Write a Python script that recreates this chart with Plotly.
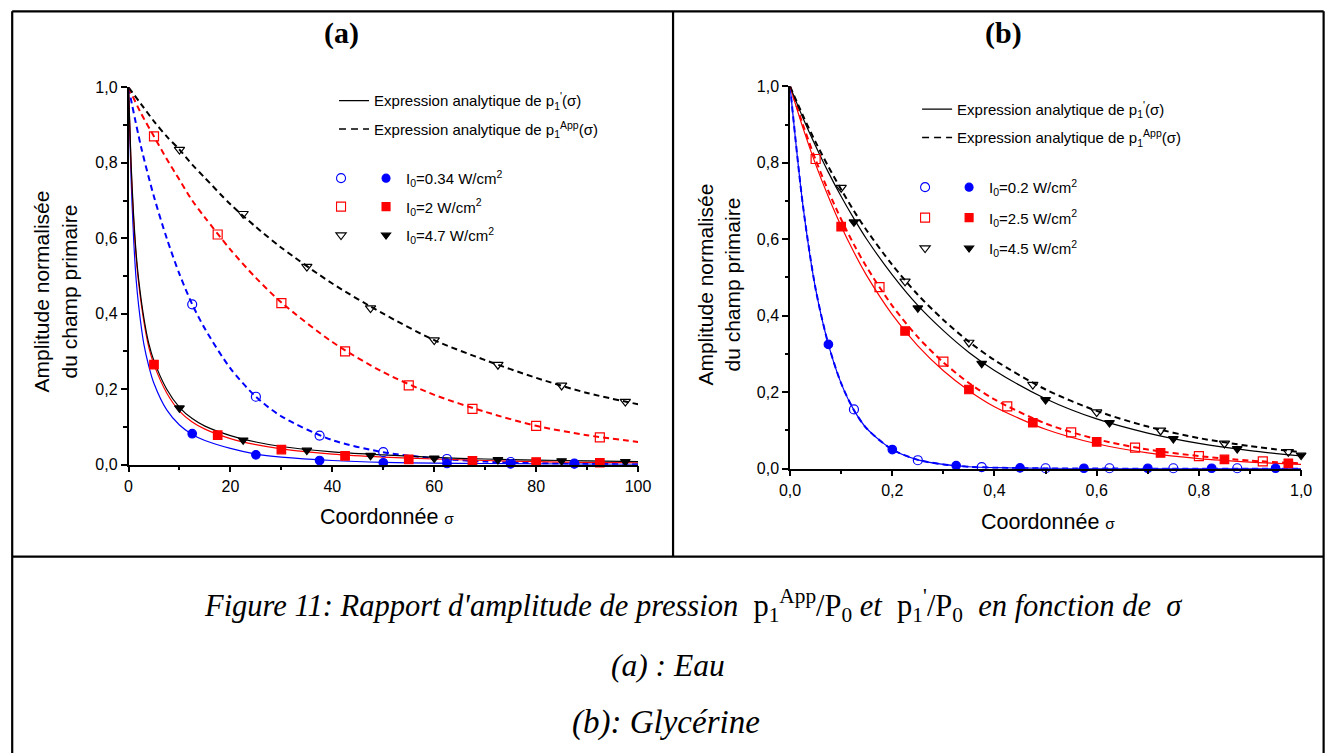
import plotly.graph_objects as go

# page -> photograph mapping measured on previous runs: pic = S * page + C
SX, CX = 0.982, 10.0
SY, CY = 0.977, 7.7
FW, FH = 1340, 763

# ---------------- Panel (a) : Eau ----------------
a_x_app = [0, 2.5, 5, 7.5, 10, 12.5, 15, 20, 25, 30, 40, 50, 60, 70, 80, 90, 100]
a_blue_app = [1, 0.84, 0.71, 0.60, 0.505, 0.425, 0.36, 0.255, 0.18, 0.128, 0.065, 0.033, 0.017, 0.008, 0.004, 0.002, 0.001]
a_red_app = [1, 0.93, 0.87, 0.81, 0.755, 0.70, 0.655, 0.57, 0.495, 0.43, 0.325, 0.245, 0.185, 0.14, 0.103, 0.078, 0.06]
a_black_app = [1, 0.955, 0.91, 0.87, 0.835, 0.795, 0.76, 0.69, 0.63, 0.575, 0.48, 0.40, 0.33, 0.277, 0.23, 0.19, 0.16]

a_x_p1 = [0, 0.5, 1, 1.5, 2, 3, 4, 5, 7.5, 10, 12.5, 15, 20, 25, 30, 40, 50, 60, 70, 80, 90, 100]
a_black_p1 = [1, 0.80, 0.66, 0.56, 0.49, 0.39, 0.32, 0.275, 0.20, 0.152, 0.122, 0.102, 0.077, 0.06, 0.048, 0.034, 0.026, 0.019, 0.015, 0.012, 0.010, 0.008]
a_red_p1 = [1, 0.79, 0.65, 0.55, 0.48, 0.38, 0.31, 0.265, 0.19, 0.142, 0.113, 0.094, 0.069, 0.053, 0.042, 0.028, 0.020, 0.015, 0.011, 0.008, 0.006, 0.005]
a_blue_p1 = [1, 0.76, 0.60, 0.49, 0.42, 0.32, 0.26, 0.215, 0.145, 0.105, 0.08, 0.064, 0.043, 0.028, 0.020, 0.011, 0.006, 0.004, 0.003, 0.002, 0.0015, 0.001]

a_blue_mx = [12.5, 25, 37.5, 50, 62.5, 75, 87.5]
a_blue_open = [0.425, 0.18, 0.077, 0.033, 0.015, 0.007, 0.003]
a_blue_fill = [0.082, 0.026, 0.011, 0.005, 0.003, 0.002, 0.002]
a_red_mx = [5, 17.5, 30, 42.5, 55, 67.5, 80, 92.5]
a_red_open = [0.87, 0.61, 0.428, 0.30, 0.21, 0.148, 0.103, 0.072]
a_red_fill = [0.265, 0.078, 0.04, 0.023, 0.014, 0.01, 0.007, 0.005]
a_black_mx = [10, 22.5, 35, 47.5, 60, 72.5, 85, 97.5]
a_black_open = [0.835, 0.665, 0.525, 0.415, 0.33, 0.265, 0.21, 0.167]
a_black_fill = [0.15, 0.065, 0.038, 0.024, 0.017, 0.013, 0.01, 0.008]
a_labels = ["I<sub>0</sub>=0.34 W/cm<sup>2</sup>", "I<sub>0</sub>=2 W/cm<sup>2</sup>", "I<sub>0</sub>=4.7 W/cm<sup>2</sup>"]

# ---------------- Panel (b) : Glycérine ----------------
b_x = [0, 0.025, 0.05, 0.075, 0.1, 0.125, 0.15, 0.2, 0.25, 0.3, 0.35, 0.4, 0.5, 0.6, 0.7, 0.8, 0.9, 1.0]
b_blue_app = [1, 0.69, 0.47, 0.325, 0.223, 0.153, 0.105, 0.05, 0.023, 0.011, 0.005, 0.0025, 0.0006, 0.0001, 0, 0, 0, 0]
b_blue_p1 = [1, 0.69, 0.47, 0.325, 0.223, 0.153, 0.105, 0.05, 0.023, 0.011, 0.005, 0.0025, 0.0006, 0.0001, 0, 0, 0, 0]
b_red_app = [1, 0.90, 0.808, 0.726, 0.652, 0.586, 0.527, 0.426, 0.344, 0.278, 0.224, 0.181, 0.118, 0.077, 0.05, 0.033, 0.021, 0.014]
b_red_p1 = [1, 0.892, 0.796, 0.711, 0.634, 0.566, 0.505, 0.403, 0.321, 0.256, 0.204, 0.162, 0.103, 0.065, 0.041, 0.026, 0.017, 0.011]
b_black_app = [1, 0.924, 0.854, 0.79, 0.73, 0.674, 0.623, 0.533, 0.455, 0.389, 0.332, 0.284, 0.207, 0.151, 0.110, 0.080, 0.059, 0.043]
b_black_p1 = [1, 0.918, 0.844, 0.775, 0.712, 0.654, 0.60, 0.507, 0.427, 0.361, 0.304, 0.257, 0.183, 0.13, 0.093, 0.066, 0.047, 0.033]

b_blue_fx = [0.075, 0.2, 0.325, 0.45, 0.575, 0.7, 0.825, 0.95]
b_blue_fill = [0.325, 0.05, 0.008, 0.002, 0.001, 0.001, 0.001, 0.001]
b_blue_ox = [0.125, 0.25, 0.375, 0.5, 0.625, 0.75, 0.875]
b_blue_open = [0.155, 0.022, 0.004, 0.001, 0.001, 0.001, 0.001]
b_red_ox = [0.05, 0.175, 0.3, 0.425, 0.55, 0.675, 0.8, 0.925]
b_red_open = [0.81, 0.475, 0.28, 0.163, 0.095, 0.055, 0.033, 0.019]
b_red_fx = [0.1, 0.225, 0.35, 0.475, 0.6, 0.725, 0.85, 0.975]
b_red_fill = [0.633, 0.36, 0.207, 0.12, 0.07, 0.041, 0.024, 0.014]
b_black_ox = [0.1, 0.225, 0.35, 0.475, 0.6, 0.725, 0.85, 0.975]
b_black_open = [0.735, 0.49, 0.33, 0.22, 0.148, 0.1, 0.066, 0.044]
b_black_fx = [0.125, 0.25, 0.375, 0.5, 0.625, 0.75, 0.875, 1.0]
b_black_fill = [0.645, 0.42, 0.275, 0.18, 0.12, 0.078, 0.052, 0.035]
b_labels = ["I<sub>0</sub>=0.2 W/cm<sup>2</sup>", "I<sub>0</sub>=2.5 W/cm<sup>2</sup>", "I<sub>0</sub>=4.5 W/cm<sup>2</sup>"]

line_labels = ["Expression analytique de p<sub>1</sub><sup>'</sup>(σ)",
               "Expression analytique de p<sub>1</sub><sup>App</sup>(σ)"]

BLUE, RED, BLACK = "#0000FF", "#FF0000", "#000000"
SANS = "Liberation Sans, Arial, sans-serif"
SERIF = "Liberation Serif, DejaVu Serif, serif"


def px(x):
    return (x - CX) / SX / FW


def py(y):
    return 1 - (y - CY) / SY / FH


fig = go.Figure()


def curve(x, y, color, dash, xa, ya):
    fig.add_trace(go.Scatter(
        x=x, y=y, mode="lines", xaxis=xa, yaxis=ya, showlegend=False,
        line=dict(color=color, width=2 if dash else 1.2,
                  dash="6px,4px" if dash else "solid", shape="spline", smoothing=0.8),
        hoverinfo="skip"))


def marks(x, y, color, symbol, xa, ya):
    fig.add_trace(go.Scatter(
        x=x, y=y, mode="markers", xaxis=xa, yaxis=ya, showlegend=False, cliponaxis=False,
        marker=dict(color=color, symbol=symbol, size=9 if "open" in symbol else 8.5,
                    line=dict(color=color, width=1.2))))


# Panel (a)
for yv, c in [(a_blue_app, BLUE), (a_red_app, RED), (a_black_app, BLACK)]:
    curve(a_x_app, yv, c, True, "x", "y")
for yv, c in [(a_blue_p1, BLUE), (a_red_p1, RED), (a_black_p1, BLACK)]:
    curve(a_x_p1, yv, c, False, "x", "y")
marks(a_blue_mx, a_blue_open, BLUE, "circle-open", "x", "y")
marks(a_blue_mx, a_blue_fill, BLUE, "circle", "x", "y")
marks(a_red_mx, a_red_open, RED, "square-open", "x", "y")
marks(a_red_mx, a_red_fill, RED, "square", "x", "y")
marks(a_black_mx, a_black_open, BLACK, "triangle-down-open", "x", "y")
marks(a_black_mx, a_black_fill, BLACK, "triangle-down", "x", "y")

# Panel (b)
for yv, c in [(b_blue_app, BLUE), (b_red_app, RED), (b_black_app, BLACK)]:
    curve(b_x, yv, c, True, "x2", "y2")
for yv, c in [(b_blue_p1, BLUE), (b_red_p1, RED), (b_black_p1, BLACK)]:
    curve(b_x, yv, c, False, "x2", "y2")
marks(b_blue_ox, b_blue_open, BLUE, "circle-open", "x2", "y2")
marks(b_blue_fx, b_blue_fill, BLUE, "circle", "x2", "y2")
marks(b_red_ox, b_red_open, RED, "square-open", "x2", "y2")
marks(b_red_fx, b_red_fill, RED, "square", "x2", "y2")
marks(b_black_ox, b_black_open, BLACK, "triangle-down-open", "x2", "y2")
marks(b_black_fx, b_black_fill, BLACK, "triangle-down", "x2", "y2")


# Legend entries (dummy traces)
def legend_entries(lg_lines, lg_open, lg_fill, labels, xa, ya):
    for i, (nm, d) in enumerate(zip(line_labels, ["solid", "7px,5px"])):
        fig.add_trace(go.Scatter(x=[None], y=[None], mode="lines", name=nm, legend=lg_lines,
                                 legendgroup=lg_lines + str(i), xaxis=xa, yaxis=ya,
                                 line=dict(color=BLACK, width=1.1 if d == "solid" else 1.5, dash=d)))
    for i, (c, s) in enumerate([(BLUE, "circle"), (RED, "square"), (BLACK, "triangle-down")]):
        fig.add_trace(go.Scatter(x=[None], y=[None], mode="markers", name=" ", legend=lg_open,
                                 legendgroup=lg_open + str(i), xaxis=xa, yaxis=ya,
                                 marker=dict(color=c, symbol=s + "-open", size=9, line=dict(color=c, width=1.1))))
        fig.add_trace(go.Scatter(x=[None], y=[None], mode="markers", name=labels[i], legend=lg_fill,
                                 legendgroup=lg_fill + str(i), xaxis=xa, yaxis=ya,
                                 marker=dict(color=c, symbol=s, size=8, line=dict(color=c, width=1.1))))


legend_entries("legend", "legend2", "legend3", a_labels, "x", "y")
legend_entries("legend4", "legend5", "legend6", b_labels, "x2", "y2")


def lg(x, ytop, gap):
    return dict(x=px(x), y=py(ytop), xanchor="left", yanchor="top", bgcolor="rgba(0,0,0,0)",
                borderwidth=0, font=dict(family=SANS, size=15, color=BLACK),
                tracegroupgap=gap, itemsizing="trace")


axis_common = dict(showline=True, linecolor=BLACK, linewidth=1.5, ticks="outside", ticklen=6,
                   tickwidth=1.5, tickcolor=BLACK, showgrid=False, zeroline=False, mirror=False,
                   tickfont=dict(family=SANS, size=16, color=BLACK),
                   minor=dict(ticks="outside", ticklen=3.5, tickwidth=1.5, tickcolor=BLACK, showgrid=False))

fig.update_layout(
    width=FW, height=FH, margin=dict(l=0, r=0, t=0, b=0, pad=0),
    paper_bgcolor="white", plot_bgcolor="white", separators=",.",
    xaxis=dict(axis_common, domain=[px(127.5), px(637)], range=[0, 100], dtick=20, tick0=0,
               minor=dict(axis_common["minor"], dtick=10), anchor="y"),
    yaxis=dict(axis_common, domain=[py(464), py(87)], range=[0, 1], dtick=0.2, tick0=0,
               tickformat=".1f", minor=dict(axis_common["minor"], dtick=0.1), anchor="x"),
    xaxis2=dict(axis_common, domain=[px(789), px(1300)], range=[0, 1], dtick=0.2, tick0=0,
                tickformat=".1f", minor=dict(axis_common["minor"], dtick=0.1), anchor="y2"),
    yaxis2=dict(axis_common, domain=[py(468), py(86)], range=[0, 1], dtick=0.2, tick0=0,
                tickformat=".1f", minor=dict(axis_common["minor"], dtick=0.1), anchor="x2"),
    legend=lg(333, 84, 6),
    legend2=lg(320, 161.5, 6),
    legend3=lg(365, 161.5, 6),
    legend4=lg(916, 92.5, 6),
    legend5=lg(904, 170.5, 8),
    legend6=lg(948, 170.5, 8),
    showlegend=True,
)

ann = []
# panel titles
ann.append(dict(text="<b>(a)</b>", x=px(340), y=py(33), font=dict(family=SERIF, size=30, color=BLACK)))
ann.append(dict(text="<b>(b)</b>", x=px(1002), y=py(33), font=dict(family=SERIF, size=30, color=BLACK)))
# axis titles
for xc, yc in [(386, 516), (1047, 521)]:
    ann.append(dict(text="Coordonnée <span style='font-size:15.5px'>σ</span>", x=px(xc), y=py(yc),
                    font=dict(family=SANS, size=21.5, color=BLACK)))
for xc, yc in [(54, 291), (717, 284)]:
    ann.append(dict(text="Amplitude normalisée<br>du champ primaire", x=px(xc), y=py(yc), textangle=-90,
                    font=dict(family=SANS, size=21, color=BLACK)))
# caption
ann.append(dict(text="<i>Figure 11: Rapport d'amplitude de pression</i>  p<sub>1</sub><sup>App</sup>/P<sub>0</sub> "
                     "<i>et</i>  p<sub>1</sub><sup>'</sup>/P<sub>0</sub>  <i>en fonction de</i>  <i>σ</i>",
                x=px(692), y=py(605), font=dict(family=SERIF, size=30.5, color=BLACK)))
ann.append(dict(text="<i>(a) : Eau</i>", x=px(667), y=py(665), font=dict(family=SERIF, size=31.5, color=BLACK)))
ann.append(dict(text="<i>(b): Glycérine</i>", x=px(665), y=py(722), font=dict(family=SERIF, size=33, color=BLACK)))
for a in ann:
    a.update(xref="paper", yref="paper", showarrow=False, xanchor="center", yanchor="middle")
fig.update_layout(annotations=ann)

# frame of the table
shapes = []


def seg(x0, y0, x1, y1):
    shapes.append(dict(type="line", xref="paper", yref="paper", x0=px(x0), y0=py(y0), x1=px(x1), y1=py(y1),
                       line=dict(color=BLACK, width=2.2)))


LEFT, RIGHT, TOP, BOTTOM = 11.2, 1322.5, 11, 760
seg(LEFT, TOP, RIGHT, TOP)
seg(LEFT, TOP, LEFT, BOTTOM)
seg(RIGHT, TOP, RIGHT, BOTTOM)
seg(672, TOP, 672, 556)
seg(LEFT, 556, RIGHT, 556)
fig.update_layout(shapes=shapes)

fig.write_html(
    "out.html",
    config={"displayModeBar": False},
    post_script="document.documentElement.style.overflow='hidden';"
                "document.body.style.margin='0';document.body.style.overflow='hidden';",
)
